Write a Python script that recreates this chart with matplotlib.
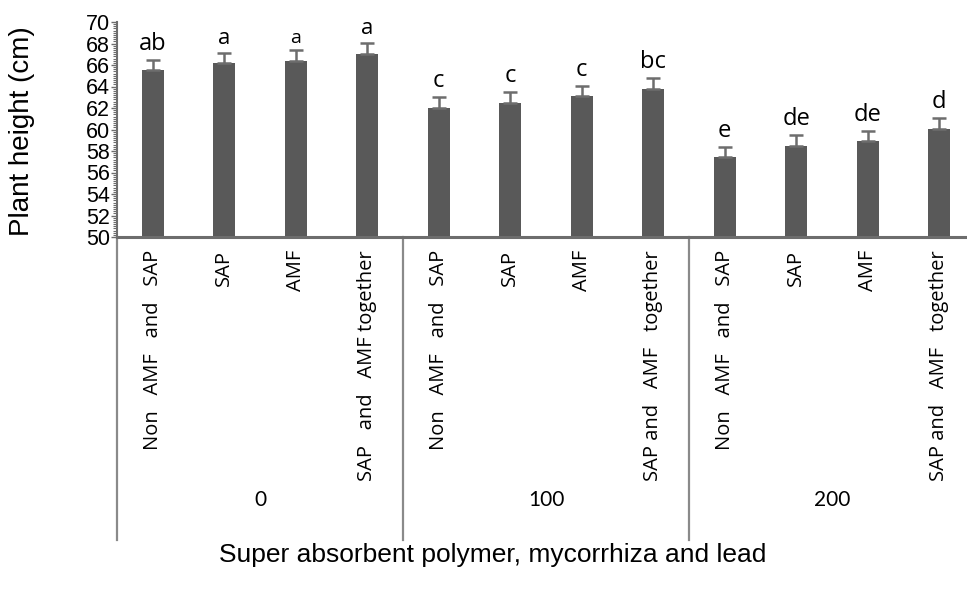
import matplotlib
matplotlib.use("Agg")
import matplotlib.pyplot as plt
import matplotlib.transforms as mtransforms
from matplotlib.ticker import MultipleLocator

# data
lead_levels = ["0", "100", "200"]
treatments = ["Non   AMF   and   SAP", "SAP", "AMF", "SAP   and   AMF together"]
treatments_late = ["Non   AMF   and   SAP", "SAP", "AMF", "SAP and   AMF   together"]
heights = [65.5, 66.2, 66.4, 67.05, 62.0, 62.5, 63.1, 63.8, 57.4, 58.5, 58.9, 60.05]
errors = [1.0, 0.95, 0.95, 1.0, 1.0, 1.0, 0.95, 1.0, 0.95, 1.0, 1.0, 1.0]
letters = ["ab", "a", "a", "a", "c", "c", "c", "bc", "e", "de", "de", "d"]
letter_sizes = [17, 16, 14, 16, 17, 17, 17, 17, 17, 17, 17, 17]

bar_col = "#595959"
axis_col = "#6d6d6d"

fig = plt.figure(figsize=(9.67, 5.96), dpi=100)
ax = fig.add_axes([117 / 967, 1 - 237 / 596, 858 / 967, 215 / 596])

x = list(range(len(heights)))
ax.bar(x, heights, width=0.31, bottom=0, color=bar_col, zorder=2)
ax.errorbar(x, heights, yerr=[[0] * len(errors), errors], fmt="none",
            ecolor=axis_col, elinewidth=1.8, capsize=5, capthick=1.8, zorder=3)

for xi, h, e, lab, fs in zip(x, heights, errors, letters, letter_sizes):
    ax.text(xi, h + e + 0.35, lab, ha="center", va="bottom", fontsize=fs,
            family=["Open Sans", "DejaVu Sans"], color="black")

ax.set_xlim(-0.5, 11.5)
ax.set_ylim(50, 70)
ax.yaxis.set_major_locator(MultipleLocator(2))
ax.yaxis.set_minor_locator(MultipleLocator(0.2))
ax.tick_params(axis="y", which="major", length=4, width=1, color=axis_col,
               labelsize=15.5, pad=1)
ax.tick_params(axis="y", which="minor", length=3, width=0.8, color=axis_col)
for t in ax.get_yticklabels():
    t.set_family(["Liberation Sans", "DejaVu Sans"])
ax.set_xticks([])
for s in ["top", "right"]:
    ax.spines[s].set_visible(False)
ax.spines["left"].set_color(axis_col)
ax.spines["left"].set_linewidth(1.5)
ax.spines["bottom"].set_color(axis_col)
ax.spines["bottom"].set_linewidth(2.2)

# multi-level category axis
trans = mtransforms.blended_transform_factory(ax.transData, ax.transAxes)
for b in [-0.5, 3.5, 7.5, 11.5]:
    ax.plot([b, b], [0, -1.41], transform=trans, color="#8a8a8a", lw=1.6,
            clip_on=False)

for g, lvl in enumerate(lead_levels):
    names = treatments if g == 0 else treatments_late
    for k, name in enumerate(names):
        ax.text(g * 4 + k, -0.06, name, transform=trans, rotation=90,
                ha="center", va="top", fontsize=14.5,
                family=["Open Sans", "DejaVu Sans"])
    ax.text(g * 4 + 1.5, -1.223, lvl, transform=trans, ha="center",
            va="center", fontsize=15, family=["Lato", "DejaVu Sans"])

fig.text(22 / 967, 1 - 131 / 596, "Plant height (cm)", rotation=90,
         ha="center", va="center", fontsize=20,
         family=["Liberation Sans", "DejaVu Sans"])
fig.text(493 / 967, 1 - 555 / 596, "Super absorbent polymer, mycorrhiza and lead",
         ha="center", va="center", fontsize=19,
         family=["Liberation Sans", "DejaVu Sans"])

fig.savefig("out.png", dpi=100)
